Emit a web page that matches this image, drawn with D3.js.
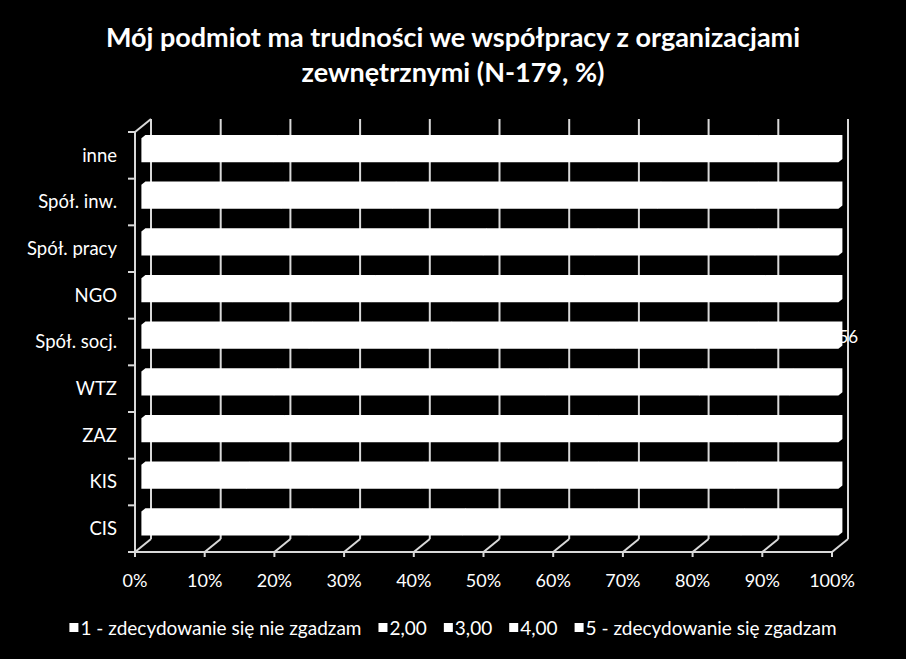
<!DOCTYPE html>
<html>
<head>
<meta charset="utf-8">
<script src="https://cdn.jsdelivr.net/npm/d3@7"></script>
<style>
  body { margin: 0; background: #000; }
  text { font-family: Lato, "Open Sans", sans-serif; fill: #fff; }
</style>
</head>
<body>
<svg id="chart"></svg>
<script>
// dane (% odpowiedzi)
const categories = ["inne", "Spół. inw.", "Spół. pracy", "NGO", "Spół. socj.", "WTZ", "ZAZ", "KIS", "CIS"];
const seriesNames = ["1 - zdecydowanie się nie zgadzam", "2,00", "3,00", "4,00", "5 - zdecydowanie się zgadzam"];
const s1 = [19, 20, 21, 13, 24, 19, 20, 15, 24];
const s2 = [25, 16, 28, 20, 20, 39, 20, 25, 22];
const s3 = [30, 38, 16, 30, 24, 22, 25, 25, 25];
const s4 = [14, 14, 23, 26, 20, 13, 20, 20, 15];
const s5 = [12, 12, 12, 11, 12, 7, 15, 15, 14];
const xTicks = [0, 0.1, 0.2, 0.3, 0.4, 0.5, 0.6, 0.7, 0.8, 0.9, 1];
const dataLabels = [{ category: "Spół. socj.", text: "56" }];

const width = 906, height = 659;
const lineColor = "#d9d9d9";

const svg = d3.select("#chart").attr("width", width).attr("height", height);
svg.append("rect").attr("width", width).attr("height", height).attr("fill", "#000");

// tabela dla d3.stack
const table = categories.map(function (c, i) {
  return { cat: c, s1: s1[i], s2: s2[i], s3: s3[i], s4: s4[i], s5: s5[i] };
});
const stacked = d3.stack()
  .keys(["s1", "s2", "s3", "s4", "s5"])
  .offset(d3.stackOffsetExpand)(table);

// skale (plaszczyzna przednia) + glebokosc 3D
const x = d3.scaleLinear().domain([0, 1]).range([135, 832]);
const y = d3.scaleBand().domain(categories).range([132, 552]);
const depthX = 16, depthY = -13;
function p(v, yy, z) {
  return [x(v) + depthX * z, yy + depthY * z];
}

const grid = svg.append("g")
  .attr("stroke", lineColor)
  .attr("stroke-width", 2)
  .attr("fill", "none");

// linie siatki na tylnej scianie
xTicks.forEach(function (t) {
  const a = p(t, y.range()[0], 1), b = p(t, y.range()[1], 1);
  grid.append("line").attr("x1", a[0]).attr("y1", a[1]).attr("x2", b[0]).attr("y2", b[1]);
  // podloga - skosy
  const c = p(t, y.range()[1], 0), d = p(t, y.range()[1], 1);
  grid.append("line").attr("x1", c[0]).attr("y1", c[1]).attr("x2", d[0]).attr("y2", d[1]);
  // znaczniki osi x
  grid.append("line").attr("x1", x(t)).attr("y1", y.range()[1]).attr("x2", x(t)).attr("y2", y.range()[1] + 5);
});

// os x (przod podlogi)
grid.append("line")
  .attr("x1", x(0)).attr("y1", y.range()[1])
  .attr("x2", x(1)).attr("y2", y.range()[1]);

// lewa sciana
grid.append("line")
  .attr("x1", x(0)).attr("y1", y.range()[0])
  .attr("x2", x(0)).attr("y2", y.range()[1]);
const lt0 = p(0, y.range()[0], 0), lt1 = p(0, y.range()[0], 1);
grid.append("line").attr("x1", lt0[0]).attr("y1", lt0[1]).attr("x2", lt1[0]).attr("y2", lt1[1]);

// znaczniki osi y
const yEdges = categories.map(function (c) { return y(c); }).concat([y.range()[1]]);
yEdges.forEach(function (yy) {
  grid.append("line").attr("x1", x(0) - 7).attr("y1", yy).attr("x2", x(0)).attr("y2", yy);
});

// slupki 3D
const zf = 0.4, zb = 0.65, barH = 24;
const bars = svg.append("g");
stacked.forEach(function (layer) {
  layer.forEach(function (d) {
    const yTop = y(d.data.cat) + (y.bandwidth() - barH) / 2;
    const yBot = yTop + barH;
    const pts = [
      p(d[0], yBot, zf), p(d[0], yTop, zf), p(d[0], yTop, zb),
      p(d[1], yTop, zb), p(d[1], yBot, zb), p(d[1], yBot, zf)
    ];
    bars.append("polygon")
      .attr("points", pts.map(function (q) { return q.join(","); }).join(" "))
      .attr("fill", "#fff");
  });
});

// etykiety danych
dataLabels.forEach(function (l) {
  const yc = y(l.category) + y.bandwidth() / 2 + depthY * zf;
  svg.append("text")
    .attr("x", p(1, 0, zb)[0] - 4)
    .attr("y", yc)
    .attr("dy", "0.35em")
    .attr("font-size", 17)
    .text(l.text);
});

// etykiety kategorii
svg.append("g").selectAll("text")
  .data(categories)
  .enter()
  .append("text")
  .attr("x", 117)
  .attr("y", function (d) { return y(d) + y.bandwidth() / 2; })
  .attr("dy", "0.35em")
  .attr("text-anchor", "end")
  .attr("font-size", 18.5)
  .text(function (d) { return d; });

// etykiety osi x
svg.append("g").selectAll("text")
  .data(xTicks)
  .enter()
  .append("text")
  .attr("x", function (d) { return x(d); })
  .attr("y", 587)
  .attr("text-anchor", "middle")
  .attr("font-size", 18)
  .text(d3.format(".0%"));

// tytul
const title = svg.append("text")
  .attr("x", width / 2)
  .attr("y", 47)
  .attr("text-anchor", "middle")
  .attr("font-size", 27)
  .attr("font-weight", "bold");
title.append("tspan").attr("x", width / 2).text("Mój podmiot ma trudności we współpracy z organizacjami");
title.append("tspan").attr("x", width / 2).attr("dy", 35).text("zewnętrznymi (N-179, %)");

// legenda
const legend = svg.append("g");
let lx = 0;
seriesNames.forEach(function (name) {
  const g = legend.append("g").attr("transform", "translate(" + lx + ",0)");
  g.append("rect").attr("x", 0).attr("y", -5).attr("width", 9).attr("height", 9).attr("fill", "#fff");
  const t = g.append("text")
    .attr("x", 11)
    .attr("y", 0)
    .attr("dy", "0.35em")
    .attr("font-size", 19)
    .text(name);
  lx += 11 + t.node().getComputedTextLength() + 17;
});
lx -= 17;
legend.attr("transform", "translate(" + ((width - lx) / 2) + ",628)");
</script>
</body>
</html>
